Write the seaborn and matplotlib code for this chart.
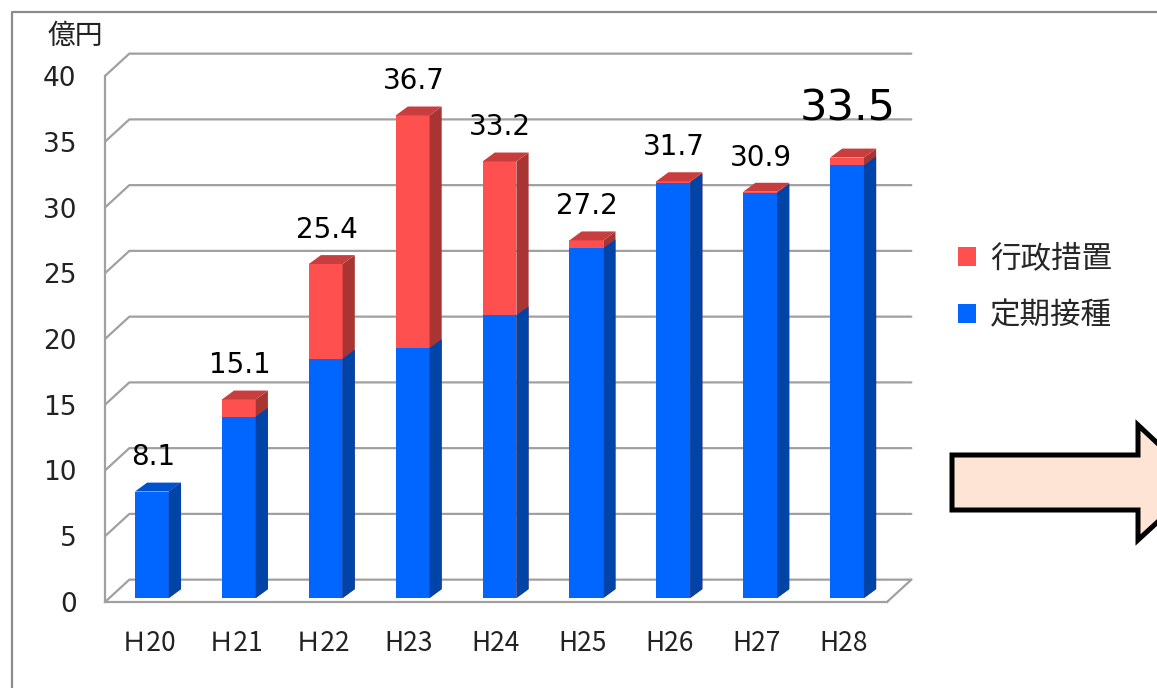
import matplotlib
matplotlib.use("Agg")
import matplotlib.pyplot as plt
import seaborn as sns
import numpy as np
import pandas as pd
from matplotlib.patches import Polygon, Patch
from matplotlib.lines import Line2D

# ---- data ----
categories = ["Ｈ20", "Ｈ21", "Ｈ22", "H23", "H24", "H25", "H26", "H27", "H28"]
teiki = [8.1, 13.8, 18.2, 19.0, 21.5, 26.6, 31.6, 30.8, 32.9]     # 定期接種 (blue)
gyosei = [0.0, 1.3, 7.2, 17.7, 11.7, 0.6, 0.1, 0.1, 0.6]          # 行政措置 (red)
totals = [8.1, 15.1, 25.4, 36.7, 33.2, 27.2, 31.7, 30.9, 33.5]     # labels
yticks = [0, 5, 10, 15, 20, 25, 30, 35, 40]

RED, RED_SIDE, RED_TOP = "#FF5050", "#A83434", "#C83E3E"
BLUE, BLUE_SIDE, BLUE_TOP = "#0066FF", "#0044A8", "#0052CC"
GRID = "#a0a0a0"

sns.set_style("white")
plt.rcParams["font.family"] = ["Noto Sans CJK JP", "DejaVu Sans"]

W, H = 1157, 688
fig = plt.figure(figsize=(W / 100, H / 100), dpi=100)
ax = fig.add_axes([105 / W, 1 - 602 / H, 782 / W, 526 / H])

df = pd.DataFrame({"cat": categories, "blue": teiki,
                   "total": [b + r for b, r in zip(teiki, gyosei)]})

BW = 0.39
sns.barplot(data=df, x="cat", y="total", color=RED, saturation=1, width=BW,
            ax=ax, zorder=2, linewidth=0)
sns.barplot(data=df, x="cat", y="blue", color=BLUE, saturation=1, width=BW,
            ax=ax, zorder=2, linewidth=0)

# bars stand mid-depth in the 3D box: nudge them back (right/up)
SHIFT_X, SHIFT_Y = 0.04, 0.3
n = len(categories)
patches = list(ax.patches)
for p in patches:
    p.set_x(p.get_x() + SHIFT_X)
    p.set_y(p.get_y() + SHIFT_Y)

# pseudo-3D faces derived from bar patches
DDX, DDY = 0.14, 0.68
red_p, blue_p = patches[:n], patches[n:]
for group, side in ((red_p, RED_SIDE), (blue_p, BLUE_SIDE)):
    for p in group:
        x0, w, y0 = p.get_x(), p.get_width(), p.get_y()
        xr, y1 = x0 + w, y0 + p.get_height()
        ax.add_patch(Polygon([(xr, y0), (xr + DDX, y0 + DDY), (xr + DDX, y1 + DDY), (xr, y1)],
                             closed=True, facecolor=side, edgecolor="none", zorder=2))
for i, p in enumerate(red_p):
    x0, w = p.get_x(), p.get_width()
    t = p.get_y() + p.get_height()
    topc = RED_TOP if gyosei[i] > 0 else BLUE_TOP
    ax.add_patch(Polygon([(x0, t), (x0 + DDX, t + DDY), (x0 + w + DDX, t + DDY), (x0 + w, t)],
                         closed=True, facecolor=topc, edgecolor="none", zorder=2))

# back wall gridlines
DX, DY = 0.28, 1.7
for v in yticks:
    ax.plot([-0.5, -0.5 + DX, n - 0.5 + DX], [v, v + DY, v + DY], color=GRID,
            lw=1.6, clip_on=False, zorder=0.5)
ax.plot([n - 0.5, n - 0.5 + DX], [0, DY], color=GRID, lw=1.6, clip_on=False, zorder=0.5)

# data labels
for i, t in enumerate(totals):
    if i == n - 1:
        ax.text(i + 0.05, t + 4.0, f"{t:.1f}", ha="center", va="center",
                fontsize=31, family="DejaVu Sans", color="black")
    else:
        ax.text(i + 0.05, t + 2.9, f"{t:.1f}", ha="center", va="center",
                fontsize=20, family="DejaVu Sans", color="black")

ax.set_xlim(-0.5, n - 0.5)
ax.set_ylim(0, 40)
ax.set_yticks(yticks)
ax.set_yticklabels([str(v) for v in yticks], fontsize=19, color="#222222",
                   family="DejaVu Sans")
ax.set_xticks(range(n))
ax.set_xticklabels(categories, fontsize=19, color="#222222")
ax.set_xticks(np.arange(-0.5, n, 1), minor=True)
ax.set_xlabel("")
ax.set_ylabel("")
ax.tick_params(axis="x", which="major", length=0, pad=20)
ax.tick_params(axis="x", which="minor", length=6.5, width=1.6, color=GRID, direction="out")
ax.tick_params(axis="y", length=8.5, width=1.6, color=GRID, pad=12)
for s in ("top", "right"):
    ax.spines[s].set_visible(False)
for s in ("left", "bottom"):
    ax.spines[s].set_color(GRID)
    ax.spines[s].set_linewidth(1.6)

# unit label
fig.text(75 / W, 1 - 36 / H, "億円", ha="center", va="center", fontsize=20, color="#222222")

# legend
handles = [Patch(facecolor=RED, edgecolor="none"), Patch(facecolor=BLUE, edgecolor="none")]
fig.legend(handles, ["行政措置", "定期接種"], loc="upper left",
           bbox_to_anchor=(958 / W, 1 - 243 / H), frameon=False, fontsize=22,
           handlelength=0.6, handleheight=0.6, handletextpad=0.45,
           labelspacing=0.85, borderpad=0, borderaxespad=0)

# block arrow (decoration)
arrow_px = [(952, 455), (1138, 455), (1138, 425), (1200, 483), (1138, 540),
            (1138, 510), (952, 510)]
fig.add_artist(Polygon([(x / W, 1 - y / H) for x, y in arrow_px], closed=True,
                       facecolor="#FDE4D5", edgecolor="black", lw=3.6,
                       transform=fig.transFigure, joinstyle="miter"))

# outer frame
fig.add_artist(Line2D([12 / W, 12 / W, 1.0], [0.0, 1 - 12 / H, 1 - 12 / H],
                      transform=fig.transFigure, color="#8c8c8c", lw=1.6))

fig.savefig("out.png", dpi=100)
